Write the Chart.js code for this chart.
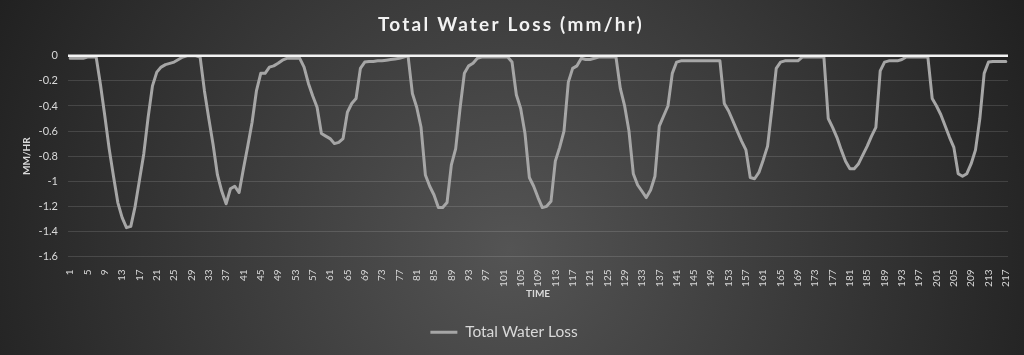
<!DOCTYPE html>
<html>
<head>
<meta charset="utf-8">
<script src="https://cdn.jsdelivr.net/npm/chart.js@4.4.1/dist/chart.umd.min.js"></script>
<style>
  html, body { margin: 0; padding: 0; background: #2a2a2a; }
  #wrap { width: 1024px; height: 355px; }
</style>
</head>
<body>
<div id="wrap"><canvas id="c" width="1024" height="355"></canvas></div>
<script>
const categories = [];
for (let i = 1; i <= 217; i++) categories.push(String(i));
const tickEvery = 4;
const seriesName = 'Total Water Loss';
const waterLoss = [
  -0.02,-0.02,-0.02,-0.02,-0.01,-0.01,-0.01,-0.23,-0.48,-0.74,
  -0.96,-1.17,-1.29,-1.37,-1.36,-1.2,-0.99,-0.78,-0.49,-0.24,
  -0.13,-0.09,-0.07,-0.06,-0.05,-0.03,-0.01,0,0,0,
  -0.01,-0.28,-0.5,-0.71,-0.95,-1.08,-1.18,-1.06,-1.04,-1.09,
  -0.9,-0.72,-0.53,-0.28,-0.14,-0.14,-0.09,-0.08,-0.06,-0.035,
  -0.02,-0.02,-0.02,-0.02,-0.09,-0.22,-0.32,-0.41,-0.62,-0.64,
  -0.66,-0.7,-0.69,-0.66,-0.45,-0.38,-0.34,-0.1,-0.05,-0.045,
  -0.045,-0.04,-0.04,-0.035,-0.03,-0.025,-0.02,-0.01,0,-0.3,
  -0.41,-0.57,-0.95,-1.04,-1.11,-1.21,-1.21,-1.17,-0.87,-0.74,
  -0.42,-0.14,-0.08,-0.06,-0.02,-0.01,-0.01,-0.01,-0.01,-0.01,
  -0.01,-0.01,-0.05,-0.31,-0.42,-0.62,-0.97,-1.04,-1.13,-1.21,
  -1.2,-1.16,-0.84,-0.73,-0.6,-0.21,-0.1,-0.08,-0.02,-0.03,
  -0.03,-0.02,-0.01,-0.01,-0.01,-0.01,-0.01,-0.26,-0.4,-0.6,
  -0.94,-1.03,-1.08,-1.13,-1.07,-0.96,-0.56,-0.48,-0.4,-0.14,
  -0.05,-0.04,-0.04,-0.04,-0.04,-0.04,-0.04,-0.04,-0.04,-0.04,
  -0.04,-0.38,-0.44,-0.52,-0.6,-0.68,-0.75,-0.97,-0.98,-0.93,
  -0.83,-0.72,-0.42,-0.1,-0.05,-0.04,-0.04,-0.04,-0.04,-0.01,
  -0.01,-0.01,-0.01,-0.01,-0.01,-0.5,-0.57,-0.65,-0.75,-0.84,
  -0.9,-0.9,-0.86,-0.79,-0.72,-0.64,-0.57,-0.12,-0.05,-0.04,
  -0.04,-0.04,-0.03,-0.01,-0.01,-0.01,-0.01,-0.01,-0.01,-0.34,
  -0.4,-0.47,-0.56,-0.65,-0.73,-0.94,-0.96,-0.94,-0.86,-0.75,
  -0.5,-0.14,-0.05,-0.045,-0.045,-0.045,-0.045
];
const yMin = -1.6, yMax = 0, yStep = 0.2;

const FONT = 'Lato, "Open Sans", sans-serif';
const TXT = '#d9d9d9';

// letter-spaced title, as in the reference
if (Chart.Title && Chart.Title._element) {
  const TitleEl = Chart.Title._element;
  const origDraw = TitleEl.prototype.draw;
  TitleEl.prototype.draw = function () {
    const c = this.ctx;
    c.save();
    c.letterSpacing = '2.2px';
    c.translate(7, 0);
    origDraw.call(this);
    c.restore();
  };
}

const bgPlugin = {
  id: 'bg',
  beforeDraw(chart) {
    const { ctx, width, height } = chart;
    const g = ctx.createRadialGradient(510, 250, 0, 510, 250, 600);
    g.addColorStop(0, '#545454');
    g.addColorStop(1, '#1e1e1e');
    ctx.save();
    ctx.fillStyle = g;
    ctx.fillRect(0, 0, width, height);
    ctx.restore();
  }
};
const zeroLine = {
  id: 'zeroLine',
  afterDatasetsDraw(chart) {
    const { ctx, chartArea, scales } = chart;
    const y = scales.y.getPixelForValue(0);
    ctx.save();
    ctx.strokeStyle = '#f4f4f4';
    ctx.lineWidth = 2.5;
    ctx.beginPath();
    ctx.moveTo(chartArea.left, y);
    ctx.lineTo(chartArea.right, y);
    ctx.stroke();
    ctx.restore();
  }
};

new Chart(document.getElementById('c'), {
  type: 'line',
  data: {
    labels: categories,
    datasets: [{
      label: seriesName,
      data: waterLoss,
      borderColor: '#a6a6a6',
      backgroundColor: '#a6a6a6',
      borderWidth: 3,
      pointRadius: 0,
      tension: 0,
      borderJoinStyle: 'round',
      borderCapStyle: 'round'
    }]
  },
  options: {
    responsive: false,
    animation: false,
    devicePixelRatio: 1,
    layout: { padding: { left: 0, right: 16, top: 0, bottom: 5 } },
    plugins: {
      title: {
        display: true,
        text: 'Total Water Loss (mm/hr)',
        color: '#f2f2f2',
        font: { family: FONT, size: 19, weight: 'bold' },
        padding: { top: 13, bottom: 20 }
      },
      legend: {
        position: 'bottom',
        labels: {
          color: TXT,
          font: { family: FONT, size: 15.5 },
          boxWidth: 27,
          boxHeight: 3,
          padding: 10,
          generateLabels(chart) {
            return chart.data.datasets.map((ds, i) => ({
              text: ds.label, fillStyle: ds.borderColor, strokeStyle: ds.borderColor,
              lineWidth: 0, hidden: false, datasetIndex: i, fontColor: TXT
            }));
          }
        }
      },
      tooltip: { enabled: false }
    },
    scales: {
      x: {
        type: 'category',
        offset: true,
        grid: { display: false },
        border: { display: false },
        afterFit(scale) { scale.height = 58; },
        ticks: {
          autoSkip: false,
          maxRotation: 90,
          minRotation: 90,
          padding: 5,
          color: TXT,
          font: { family: FONT, size: 10 },
          callback(val, idx) { return idx % tickEvery === 0 ? this.getLabelForValue(val) : null; }
        },
        title: {
          display: true, text: 'TIME', color: TXT,
          font: { family: FONT, size: 10, weight: 'bold' },
          padding: { top: 2, bottom: 15 }
        }
      },
      y: {
        min: yMin, max: yMax,
        afterFit(scale) { scale.width = 68; },
        grid: {
          color: (c) => c.tick && c.tick.value === 0 ? 'rgba(0,0,0,0)' : 'rgba(255,255,255,0.13)',
          lineWidth: 1,
          drawTicks: false
        },
        border: { display: false },
        ticks: {
          stepSize: yStep,
          padding: 10,
          color: TXT,
          font: { family: FONT, size: 11 },
          callback(v) { return String(Number(v.toFixed(1))); }
        },
        title: {
          display: true, text: 'MM/HR', color: TXT,
          font: { family: FONT, size: 10, weight: 'bold' },
          padding: { top: 21, bottom: 6 }
        }
      }
    }
  },
  plugins: [bgPlugin, zeroLine]
});
</script>
</body>
</html>
